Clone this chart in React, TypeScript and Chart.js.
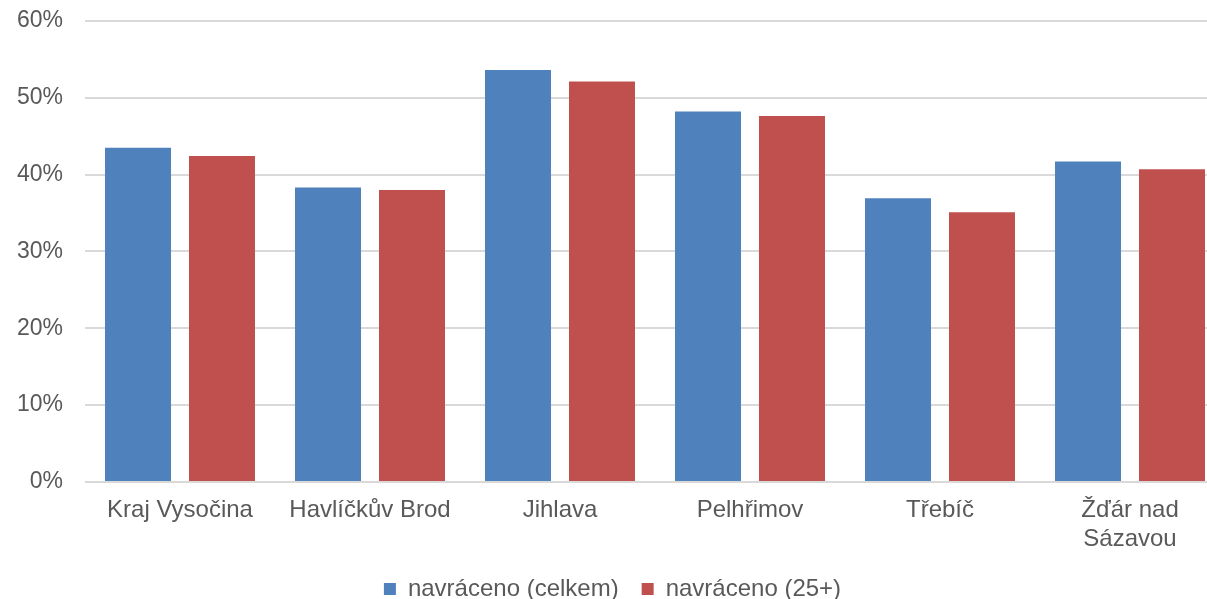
import React, { useEffect, useRef } from "react";
import { Chart, registerables } from "chart.js";

Chart.register(...registerables);

const categories: (string | string[])[] = [
  "Kraj Vysočina",
  "Havlíčkův Brod",
  "Jihlava",
  "Pelhřimov",
  "Třebíč",
  ["Žďár nad", "Sázavou"],
];
const celkem = [43.5, 38.3, 53.6, 48.2, 36.9, 41.7];
const nad25 = [42.4, 38.0, 52.1, 47.6, 35.1, 40.7];
const seriesNames = ["navráceno (celkem)", "navráceno (25+)"];

const FONT = "'Liberation Sans', Arial, sans-serif";
const TEXT = "#595959";
const W = 1225;
const H = 626;
const OFFSET_TOP = -15;

export default function App() {
  const ref = useRef<HTMLCanvasElement>(null);
  useEffect(() => {
    document.body.style.margin = "0";
    const chart = new Chart(ref.current!, {
      type: "bar",
      data: {
        labels: categories,
        datasets: [
          { label: seriesNames[0], data: celkem, backgroundColor: "#4F81BD" },
          { label: seriesNames[1], data: nad25, backgroundColor: "#C0504D" },
        ],
      },
      options: {
        animation: false,
        responsive: false,
        maintainAspectRatio: false,
        layout: { padding: { top: 9, right: 0, left: 0, bottom: 0 } },
        datasets: { bar: { categoryPercentage: 0.884, barPercentage: 0.786 } },
        plugins: {
          tooltip: { enabled: false },
          legend: {
            position: "bottom",
            labels: {
              font: { family: FONT, size: 24 },
              color: TEXT,
              boxWidth: 12,
              boxHeight: 12,
              padding: 23,
            },
          },
        },
        scales: {
          x: {
            grid: { display: false },
            border: { display: false },
            ticks: { font: { family: FONT, size: 24 }, color: TEXT, padding: 6, maxRotation: 0, autoSkip: false },
            afterFit: (s: any) => { s.height = 72; },
          },
          y: {
            min: 0,
            max: 60,
            ticks: {
              stepSize: 10,
              font: { family: FONT, size: 23 },
              color: TEXT,
              padding: 22,
              callback: (v: any) => v + "%",
            },
            grid: { color: "#D9D9D9", lineWidth: 2, drawTicks: false },
            border: { display: false },
            afterFit: (s: any) => { s.width = 85; },
          },
        },
      },
    });
    return () => chart.destroy();
  }, []);
  return (
    <div style={{ position: "absolute", left: 0, top: 0, width: 1207, height: 599, overflow: "hidden" }}>
      <canvas
        ref={ref}
        width={W}
        height={H}
        style={{ width: W, height: H, display: "block", marginTop: OFFSET_TOP }}
      />
    </div>
  );
}
